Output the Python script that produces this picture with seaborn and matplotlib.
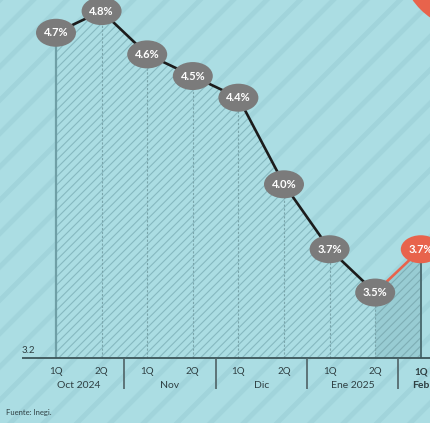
import matplotlib
matplotlib.use("Agg")
import matplotlib.pyplot as plt
import seaborn as sns
import pandas as pd
import numpy as np
from matplotlib.patches import Ellipse, Rectangle, Circle
from matplotlib.transforms import IdentityTransform

# ---- data ----
quincenas = ["1Q", "2Q", "1Q", "2Q", "1Q", "2Q", "1Q", "2Q", "1Q"]
months = ["Oct 2024", "Nov", "Dic", "Ene 2025", "Feb"]
values = [4.7, 4.8, 4.6, 4.5, 4.4, 4.0, 3.7, 3.5, 3.7]
base_value = 3.2
source = "Fuente: Inegi."

sns.set_theme(style="white")
plt.rcParams['font.family'] = ['Lato', 'DejaVu Sans']

BG = "#abdde3"
fig = plt.figure(figsize=(4.31, 4.23), dpi=100)
fig.patch.set_facecolor(BG)
ax = fig.add_axes([0, 0, 1, 1])
ax.set_facecolor(BG)

W, H = 431, 423
x0px, dxpx = 56, 45.6
y0px, dypx = 357.5, 216.5
ax.set_xlim(-x0px / dxpx, (W - x0px) / dxpx)
ax.set_ylim(base_value - (H - y0px) / dypx, base_value + y0px / dypx)
ax.axis("off")

df = pd.DataFrame({"x": np.arange(len(values)), "v": values})
n_obs = len(values) - 1  # last is highlighted (latest)

# background soft stripes
plt.rcParams['hatch.linewidth'] = 3.5
bg = Rectangle((0, 0), 1, 1, transform=ax.transAxes, facecolor=BG,
               edgecolor="#a1d4db", hatch="/", linewidth=0, zorder=0)
ax.add_patch(bg)

# hatched area under curve
plt.rcParams['hatch.linewidth'] = 0.8
hist = df.iloc[:n_obs]
ax.fill_between(hist["x"], base_value, hist["v"], facecolor=BG,
                edgecolor="#86b9c0", hatch="////", linewidth=0, zorder=1)
last = df.iloc[n_obs - 1:]
ax.fill_between(last["x"], base_value, last["v"], facecolor="#98ccd3",
                edgecolor="#7eaeb5", hatch="////", linewidth=0, zorder=1)

# vertical guide lines
for i, v in enumerate(values):
    if i == 0:
        ax.vlines(i, base_value, v, color="#6f9fa6", lw=1.6, zorder=2)
    elif i == len(values) - 1:
        ax.vlines(i, base_value, v, color="#4d6e73", lw=1.4, zorder=2)
    else:
        ax.vlines(i, base_value, v, color="#7aa6ac", lw=0.8,
                  linestyles=(0, (2, 1.5)), zorder=2)

# lines
sns.lineplot(data=hist, x="x", y="v", color="#1c1c1c", lw=1.9, ax=ax,
             zorder=3, legend=False)
sns.lineplot(data=last, x="x", y="v", color="#e8634c", lw=1.9, ax=ax,
             zorder=3, legend=False)

# bubbles
ew, eh = 40 / dxpx, 28 / dypx
for i, v in enumerate(values):
    col = "#e8634c" if i == len(values) - 1 else "#7b7b7b"
    ax.add_patch(Ellipse((i, v), ew, eh, facecolor=col, edgecolor="none",
                         zorder=4))
    ax.text(i, v, f"{v:.1f}%", ha="center", va="center", color="white",
            fontsize=8, fontweight="bold", zorder=5)

# baseline
ax.hlines(base_value, -34 / dxpx, len(values), color="#3d5559", lw=1.3,
          zorder=3)
ax.text(-34 / dxpx, base_value + 3 / dypx, f"{base_value:.1f}", ha="left",
        va="bottom", fontsize=7, color="#2f3f42")

# x labels
for i, q in enumerate(quincenas):
    bold = i == len(quincenas) - 1
    ax.text(i, base_value - 14 / dypx, q, ha="center", va="center",
            fontsize=7, color="#2f3f42", fontweight="bold" if bold else "normal")
for m, name in enumerate(months):
    xc = 2 * m + 0.5 if m < len(months) - 1 else 2 * m
    bold = m == len(months) - 1
    ax.text(xc, base_value - 28 / dypx, name, ha="center", va="center",
            fontsize=7.5, color="#2f3f42",
            fontweight="bold" if bold else "normal")
for m in range(len(months) - 1):
    ax.vlines(2 * m + 1.5, base_value - 31 / dypx, base_value,
              color="#4f6266", lw=1.2, zorder=3)

ax.text(6 / W, 1 - 412 / H, source, transform=ax.transAxes, ha="left",
        va="center", fontsize=5.5, color="#2f3f42")

# decorative red circle partly visible at the top right
fig.patches.append(Circle((470, H + 40), 70, transform=IdentityTransform(),
                          facecolor="#e8634c", edgecolor="none", zorder=10))

fig.savefig("out.png", dpi=100, facecolor=BG)
